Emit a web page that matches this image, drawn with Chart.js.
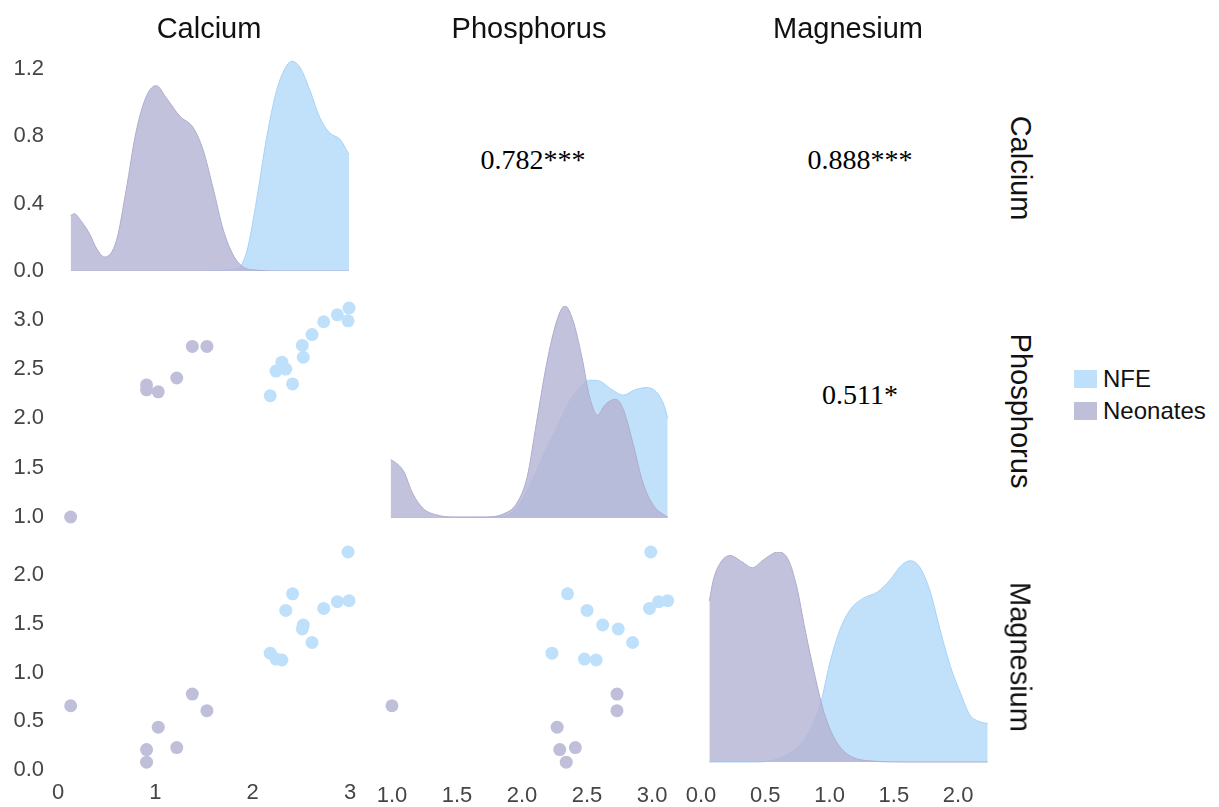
<!DOCTYPE html>
<html>
<head>
<meta charset="utf-8">
<script src="https://cdn.jsdelivr.net/npm/chart.js@4.4.1/dist/chart.umd.min.js"></script>
<style>
  body { margin: 0; background: #fff; }
  #wrap { position: relative; width: 1219px; height: 807px; overflow: hidden; background: #fff;
          font-family: "Liberation Sans", Arial, sans-serif; }
  #wrap canvas { position: absolute; }
  .lbl { position: absolute; white-space: nowrap; transform: translate(-50%, -50%); line-height: 1; }
  .head { font-size: 29px; color: #111; }
  .side { font-size: 29px; color: #111; transform: translate(-50%, -50%) rotate(90deg); }
  .corr { font-family: "Liberation Serif", "Times New Roman", serif; font-size: 28px; color: #000; }
  .key { position: absolute; width: 23px; height: 18px; }
  .keytxt { position: absolute; font-size: 24px; color: #111; line-height: 1; transform: translateY(-50%); }
</style>
</head>
<body>
<div id="wrap"></div>
<script>
// variables and groups
const variables = ['Calcium', 'Phosphorus', 'Magnesium'];
const groups = ['NFE', 'Neonates'];
const corrLabels = ['0.782***', '0.888***', '0.511*'];   // Ca-P, Ca-Mg, P-Mg

// samples, NFE
const nfeCalcium    = [2.99, 2.98, 2.87, 2.73, 2.61, 2.51, 2.52, 2.30, 2.34, 2.24, 2.41, 2.18];
const nfePhosphorus = [3.12, 2.99, 3.05, 2.98, 2.85, 2.74, 2.62, 2.57, 2.50, 2.48, 2.35, 2.23];
const nfeMagnesium  = [1.74, 2.24, 1.73, 1.66, 1.31, 1.45, 1.49, 1.13, 1.64, 1.14, 1.81, 1.20];

// samples, neonates
const neoCalcium    = [0.13, 0.91, 0.91, 1.03, 1.22, 1.38, 1.53];
const neoPhosphorus = [1.00, 2.29, 2.34, 2.27, 2.41, 2.73, 2.73];
const neoMagnesium  = [0.66, 0.21, 0.08, 0.44, 0.23, 0.78, 0.61];

// density curves on the diagonal
const caGridNeo = [0.13, 0.17, 0.22, 0.32, 0.40, 0.48, 0.60, 0.70, 0.80, 0.91, 1.01, 1.11, 1.25, 1.39, 1.49, 1.59, 1.70, 1.80, 1.90, 2.04, 2.30, 2.99];
const caDensNeo = [0.33, 0.34, 0.31, 0.225, 0.13, 0.083, 0.18, 0.48, 0.82, 1.04, 1.10, 1.03, 0.92, 0.85, 0.72, 0.50, 0.24, 0.095, 0.025, 0.005, 0, 0];
const caGridNfe = [0.13, 1.50, 1.80, 1.87, 1.95, 2.04, 2.14, 2.245, 2.35, 2.405, 2.485, 2.59, 2.69, 2.79, 2.90, 2.99];
const caDensNfe = [0, 0, 0.01, 0.025, 0.14, 0.42, 0.78, 1.07, 1.22, 1.245, 1.21, 1.07, 0.91, 0.82, 0.78, 0.69];

const pGridNeo = [0.99, 1.02, 1.09, 1.16, 1.24, 1.34, 1.47, 1.73, 1.86, 1.96, 2.04, 2.11, 2.19, 2.27, 2.33, 2.39, 2.46, 2.52, 2.58, 2.64, 2.72, 2.78, 2.86, 2.93, 3.01, 3.09, 3.12];
const pDensNeo = [0.55, 0.53, 0.44, 0.23, 0.09, 0.03, 0.01, 0.01, 0.04, 0.14, 0.39, 0.89, 1.46, 1.87, 2.0, 1.87, 1.52, 1.14, 0.97, 1.07, 1.12, 1.02, 0.67, 0.33, 0.12, 0.03, 0.01];
const pGridNfe = [0.99, 1.50, 1.86, 1.96, 2.06, 2.16, 2.27, 2.37, 2.45, 2.52, 2.60, 2.68, 2.78, 2.87, 2.96, 3.04, 3.09, 3.12];
const pDensNfe = [0, 0, 0.02, 0.10, 0.31, 0.58, 0.86, 1.11, 1.24, 1.30, 1.29, 1.22, 1.16, 1.21, 1.23, 1.18, 1.07, 0.94];

const mgGridNeo = [0.065, 0.096, 0.148, 0.226, 0.317, 0.40, 0.485, 0.60, 0.68, 0.745, 0.81, 0.887, 0.95, 1.03, 1.13, 1.29, 1.60, 2.23];
const mgDensNeo = [0.92, 1.04, 1.135, 1.18, 1.145, 1.11, 1.155, 1.20, 1.155, 1.00, 0.755, 0.49, 0.30, 0.145, 0.05, 0.008, 0, 0];
const mgGridNfe = [0.065, 0.40, 0.56, 0.69, 0.82, 0.93, 1.00, 1.08, 1.16, 1.26, 1.37, 1.47, 1.56, 1.63, 1.70, 1.78, 1.86, 1.94, 2.02, 2.09, 2.17, 2.23];
const mgDensNfe = [0, 0, 0.01, 0.05, 0.145, 0.335, 0.56, 0.755, 0.87, 0.935, 0.97, 1.04, 1.125, 1.15, 1.115, 0.98, 0.755, 0.545, 0.39, 0.27, 0.23, 0.22];

// tick values and labels
const caTicks = [0, 1, 2, 3];
const caTickLabels = ['0', '1', '2', '3'];
const densTicks = [0, 0.4, 0.8, 1.2];
const densTickLabels = ['0.0', '0.4', '0.8', '1.2'];
const pTicks = [1.0, 1.5, 2.0, 2.5, 3.0];
const pTickLabels = ['1.0', '1.5', '2.0', '2.5', '3.0'];
const mgTicks = [0.0, 0.5, 1.0, 1.5, 2.0];
const mgTickLabels = ['0.0', '0.5', '1.0', '1.5', '2.0'];

// colours
const NFE_FILL = 'rgba(178, 218, 250, 0.8)';
const NFE_LINE = 'rgba(165, 210, 248, 1)';
const NEO_FILL = 'rgba(182, 181, 212, 0.82)';
const NEO_LINE = 'rgba(174, 172, 206, 1)';
const NFE_DOT = '#bfe0fa';
const NEO_DOT = '#c0bfda';

// panel geometry (plot areas in page pixels)
const COLS = [{ l: 58, r: 350 }, { l: 390, r: 669 }, { l: 701, r: 989 }];
const ROWS = [{ t: 52, b: 271 }, { t: 306, b: 518 }, { t: 552, b: 770 }];
const PAD = 34, Y_AXIS_W = 50, X_AXIS_H = 40;

Chart.defaults.font.family = '"Liberation Sans", Arial, sans-serif';
const wrap = document.getElementById('wrap');

function axis(min, max, ticks, labels, pad) {
    if (!ticks) return { type: 'linear', min: min, max: max, display: false };
    return {
        type: 'linear', min: min, max: max,
        grid: { display: false, drawTicks: false },
        border: { display: false },
        afterBuildTicks: s => { s.ticks = ticks.map(v => ({ value: v })); },
        afterFit: s => { if (s.isHorizontal()) s.height = X_AXIS_H; else s.width = Y_AXIS_W; },
        ticks: {
            padding: pad, color: '#454545', font: { size: 22 },
            autoSkip: false, maxRotation: 0,
            callback: (v, i) => labels[i]
        }
    };
}

function panel(row, col, type, datasets, xScale, yScale) {
    const c = COLS[col], r = ROWS[row];
    const yw = yScale.display === false ? 0 : Y_AXIS_W;
    const xh = xScale.display === false ? 0 : X_AXIS_H;
    const w = c.r - c.l + 2 * PAD + yw;
    const h = r.b - r.t + 2 * PAD + xh;
    const cv = document.createElement('canvas');
    cv.width = w; cv.height = h;
    cv.style.left = (c.l - PAD - yw) + 'px';
    cv.style.top = (r.t - PAD) + 'px';
    cv.style.width = w + 'px';
    cv.style.height = h + 'px';
    wrap.appendChild(cv);
    new Chart(cv, {
        type: type,
        data: { datasets: datasets },
        options: {
            responsive: false, animation: false,
            layout: { padding: PAD },
            plugins: { legend: { display: false }, tooltip: { enabled: false } },
            scales: { x: xScale, y: yScale }
        }
    });
}

const zip = (xs, ys) => xs.map((x, i) => ({ x: x, y: ys[i] }));

function dens(xs, ys, fill, line) {
    return {
        data: zip(xs, ys), fill: 'origin', backgroundColor: fill, borderColor: line,
        borderWidth: 1, pointRadius: 0, cubicInterpolationMode: 'monotone'
    };
}
function dots(xs, ys, color) {
    return { data: zip(xs, ys), backgroundColor: color, borderWidth: 0, pointRadius: 6.5, clip: false };
}

// diagonal: densities (neonates listed first so they draw on top)
panel(0, 0, 'line',
    [dens(caGridNeo, caDensNeo, NEO_FILL, NEO_LINE), dens(caGridNfe, caDensNfe, NFE_FILL, NFE_LINE)],
    axis(0, 3), axis(0, 1.3, densTicks, densTickLabels, 14));
panel(1, 1, 'line',
    [dens(pGridNeo, pDensNeo, NEO_FILL, NEO_LINE), dens(pGridNfe, pDensNfe, NFE_FILL, NFE_LINE)],
    axis(0.985, 3.13), axis(0, 2.0));
panel(2, 2, 'line',
    [dens(mgGridNeo, mgDensNeo, NEO_FILL, NEO_LINE), dens(mgGridNfe, mgDensNfe, NFE_FILL, NFE_LINE)],
    axis(0, 2.24, mgTicks, mgTickLabels, 13), axis(-0.0457, 1.2));

// lower triangle: scatter
panel(1, 0, 'scatter',
    [dots(nfeCalcium, nfePhosphorus, NFE_DOT), dots(neoCalcium, neoPhosphorus, NEO_DOT)],
    axis(0, 3), axis(0.99, 3.14, pTicks, pTickLabels, 14));
panel(2, 0, 'scatter',
    [dots(nfeCalcium, nfeMagnesium, NFE_DOT), dots(neoCalcium, neoMagnesium, NEO_DOT)],
    axis(0, 3, caTicks, caTickLabels, 10), axis(0, 2.24, mgTicks, mgTickLabels, 14));
panel(2, 1, 'scatter',
    [dots(nfePhosphorus, nfeMagnesium, NFE_DOT), dots(neoPhosphorus, neoMagnesium, NEO_DOT)],
    axis(0.985, 3.13, pTicks, pTickLabels, 13), axis(0, 2.24));

// text: headers, strip labels, correlations, legend
function addText(cls, text, x, y) {
    const d = document.createElement('div');
    d.className = 'lbl ' + cls;
    d.textContent = text;
    d.style.left = x + 'px';
    d.style.top = y + 'px';
    wrap.appendChild(d);
}
[209, 529, 848].forEach((x, i) => addText('head', variables[i], x, 28));
[168, 411, 657].forEach((y, i) => addText('side', variables[i], 1020, y));
addText('corr', corrLabels[0], 533, 160);
addText('corr', corrLabels[1], 860, 160);
addText('corr', corrLabels[2], 860, 395);

[[NFE_DOT, 379], [NEO_DOT, 411]].forEach(([color, y], i) => {
    const k = document.createElement('div');
    k.className = 'key';
    k.style.left = '1074px'; k.style.top = (y - 9) + 'px';
    k.style.background = color;
    wrap.appendChild(k);
    const t = document.createElement('div');
    t.className = 'keytxt';
    t.textContent = groups[i];
    t.style.left = '1103px'; t.style.top = y + 'px';
    wrap.appendChild(t);
});
</script>
</body>
</html>
